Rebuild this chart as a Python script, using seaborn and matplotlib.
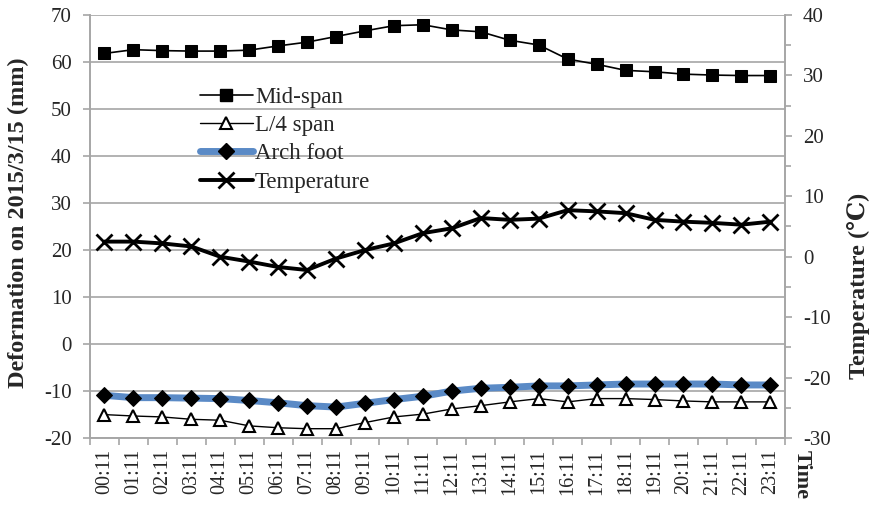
import numpy as np
import pandas as pd
import matplotlib
matplotlib.use("Agg")
import matplotlib.pyplot as plt
from matplotlib.lines import Line2D
from matplotlib.ticker import MultipleLocator, FixedLocator
import seaborn as sns

# ---- data ----
times = ["%02d:11" % h for h in range(24)]

mid_span = [61.8, 62.6, 62.4, 62.3, 62.3, 62.5, 63.4, 64.2, 65.4, 66.6, 67.7, 67.9,
            66.8, 66.4, 64.6, 63.6, 60.6, 59.5, 58.2, 57.9, 57.4, 57.2, 57.1, 57.1]
l4_span = [-15.0, -15.3, -15.5, -16.0, -16.2, -17.4, -17.8, -18.0, -18.0, -16.7, -15.5, -14.9,
           -13.8, -13.1, -12.3, -11.6, -12.3, -11.6, -11.6, -11.8, -12.1, -12.3, -12.3, -12.3]
arch_foot = [-10.9, -11.4, -11.4, -11.5, -11.6, -12.0, -12.5, -13.1, -13.4, -12.6, -11.8, -11.1,
             -10.0, -9.4, -9.2, -8.9, -8.9, -8.7, -8.5, -8.5, -8.5, -8.5, -8.7, -8.7]
temperature = [2.5, 2.5, 2.2, 1.7, 0.0, -0.8, -1.7, -2.2, -0.3, 1.1, 2.2, 3.9,
               4.7, 6.4, 6.1, 6.3, 7.7, 7.5, 7.2, 6.1, 5.8, 5.6, 5.3, 5.8]

df = pd.DataFrame({"Time": times, "Mid-span": mid_span, "L/4 span": l4_span,
                   "Arch foot": arch_foot, "Temperature": temperature})

sns.set_style("white")
plt.rcParams["font.family"] = ["Liberation Serif", "DejaVu Serif"]
plt.rcParams["axes.unicode_minus"] = False

GRAY = "#A6A6A6"
BLUE = "#5A8AC6"

fig = plt.figure(figsize=(8.73, 5.13), dpi=100)
ax = fig.add_axes([0.103, 0.146, 0.796, 0.825])
ax2 = ax.twinx()

# left axis series
sns.lineplot(data=df, x="Time", y="Arch foot", ax=ax, sort=False, color=BLUE, lw=5,
             marker="D", markersize=8, markerfacecolor="black", markeredgecolor="black", zorder=4)
sns.lineplot(data=df, x="Time", y="Mid-span", ax=ax, sort=False, color="black", lw=1.2,
             marker="s", markersize=8, markerfacecolor="black", markeredgecolor="black", zorder=5)
sns.lineplot(data=df, x="Time", y="L/4 span", ax=ax, sort=False, color="black", lw=1.0,
             marker="^", markersize=8, markerfacecolor="white", markeredgecolor="black",
             markeredgewidth=1.5, zorder=5)
# right axis series
sns.lineplot(data=df, x="Time", y="Temperature", ax=ax2, sort=False, color="black", lw=2.8,
             marker="x", markersize=12, markeredgewidth=2, markeredgecolor="black", zorder=5)

ax.set_xlim(-0.5, len(times) - 0.5)
ax.set_ylim(-20, 70)
ax2.set_ylim(-30, 40)

ax.yaxis.set_major_locator(MultipleLocator(10))
ax.grid(axis="y", color=GRAY, lw=1.2)
ax.grid(axis="x", visible=False)
ax.set_axisbelow(True)

ax2.yaxis.set_major_locator(MultipleLocator(10))
ax2.yaxis.set_minor_locator(MultipleLocator(5))
ax2.grid(False)

# ticks between categories on x
ax.set_xticks(range(len(times)))
ax.set_xticklabels(times, rotation=90, fontsize=14.5)
ax.xaxis.set_minor_locator(FixedLocator(np.arange(-0.5, len(times), 1.0)))
ax.tick_params(axis="x", which="major", length=0, pad=8)
ax.tick_params(axis="x", which="minor", length=5, color=GRAY, width=1.2, bottom=True)
ax.tick_params(axis="y", which="major", length=5, color=GRAY, width=1.2, labelsize=15,
               left=True, pad=8)
ax2.tick_params(axis="y", which="major", length=5, color=GRAY, width=1.2, labelsize=15,
                right=True, pad=8)
ax2.tick_params(axis="y", which="minor", length=4, color=GRAY, width=1.2, right=True)

for a in (ax, ax2):
    for s in a.spines.values():
        s.set_color(GRAY)
        s.set_linewidth(1.2)
    a.spines["top"].set_visible(False)

ax.set_xlabel("")
ax.set_ylabel("Deformation on 2015/3/15 (mm)", fontsize=17.5, fontweight="bold")
ax.yaxis.set_label_coords(-0.087, 0.51)
ax2.set_ylabel("Temperature (℃)", fontsize=17.5, fontweight="bold")
ax2.yaxis.set_label_coords(1.09, 0.36)
fig.text(0.918, 0.075, "Time", rotation=-90, fontsize=16, fontweight="bold",
         ha="center", va="center")

handles = [
    Line2D([], [], color="black", lw=1.2, marker="s", markersize=8, markerfacecolor="black"),
    Line2D([], [], color="black", lw=1.0, marker="^", markersize=8, markerfacecolor="white",
           markeredgecolor="black", markeredgewidth=1.5),
    Line2D([], [], color=BLUE, lw=5, marker="D", markersize=8, markerfacecolor="black",
           markeredgecolor="black"),
    Line2D([], [], color="black", lw=2.8, marker="x", markersize=12, markeredgewidth=2),
]
labels = ["Mid-span", "L/4 span", "Arch foot", "Temperature"]
leg = ax.legend(handles, labels, loc="upper left", bbox_to_anchor=(0.145, 0.852), frameon=False,
                fontsize=16.5, handlelength=2.3, handletextpad=0.1, labelspacing=0.32,
                borderaxespad=0)

fig.savefig("out.png", dpi=100)
